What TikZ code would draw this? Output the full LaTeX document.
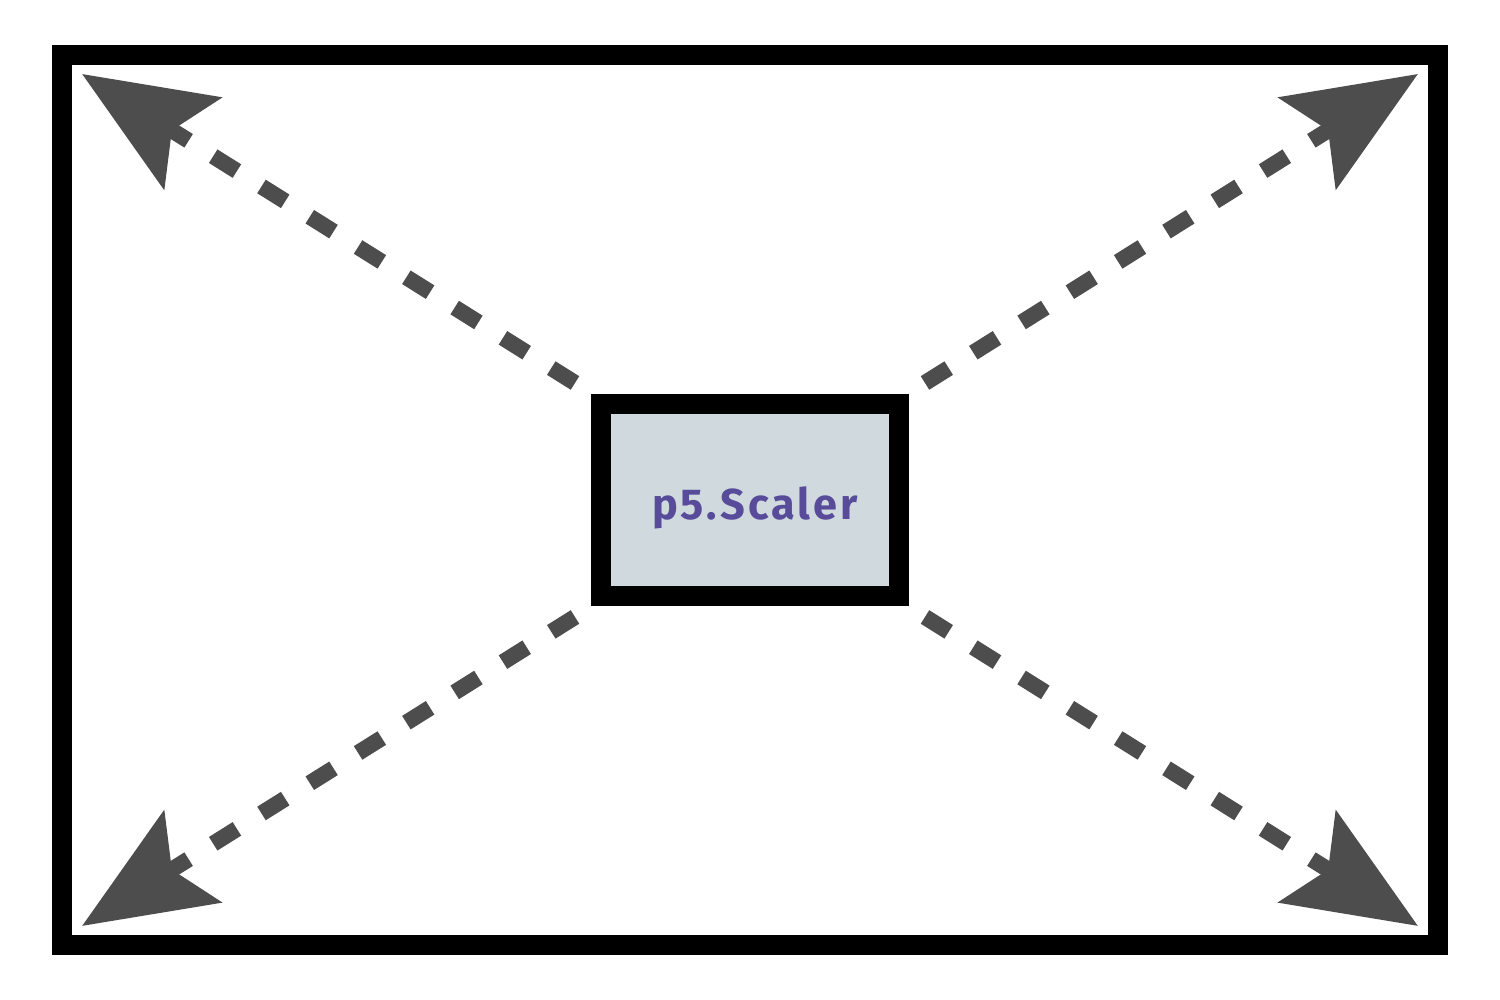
\documentclass[tikz,border=0pt]{standalone}
\usepackage{fontspec}
\setmainfont{Fira Sans}
\newfontfamily\labelfont[LetterSpace=7]{Fira Sans}
\usetikzlibrary{arrows.meta}
\definecolor{arrowgray}{HTML}{4D4D4D}
\definecolor{boxfill}{HTML}{CFD9DE}
\definecolor{textpurple}{HTML}{574B9A}
\tikzset{
  frame/.style={draw=black, line width=2mm, minimum width=13.76cm, minimum height=8.9cm, inner sep=0pt},
  scalerbox/.style={draw=black, fill=boxfill, line width=2mm, minimum width=2.98cm, minimum height=1.92cm, inner sep=0pt},
  scalerlabel/.style={text=textpurple, font=\labelfont\bfseries\fontsize{12.3}{14}\selectfont},
  arrowline/.style={draw=arrowgray, line width=1.6mm, dash pattern=on 2.8mm off 2.9mm,
    -{Stealth[length=1.3cm, width=1.07cm, inset=0.24cm, fill=arrowgray]}}
}
\begin{document}
\begin{tikzpicture}[x=1cm,y=1cm]
\useasboundingbox (0,0) rectangle (15,10);
\node[frame] (outer) at (7.5,5) {};
\node[scalerbox] (scaler) at (7.5,5) {};
\node[scalerlabel] (label) at (7.55,4.92) {p5.Scaler};
% start points near box corners
\coordinate (s1) at (5.75,6.17);
\coordinate (s2) at (9.25,6.17);
\coordinate (s3) at (5.75,3.83);
\coordinate (s4) at (9.25,3.83);
% tips at outer corners
\coordinate (t1) at (0.82,9.26);
\coordinate (t2) at (14.18,9.26);
\coordinate (t3) at (0.82,0.74);
\coordinate (t4) at (14.18,0.74);
\draw[arrowline] (s1) -- (t1);
\draw[arrowline] (s2) -- (t2);
\draw[arrowline] (s3) -- (t3);
\draw[arrowline] (s4) -- (t4);
\end{tikzpicture}
\end{document}
